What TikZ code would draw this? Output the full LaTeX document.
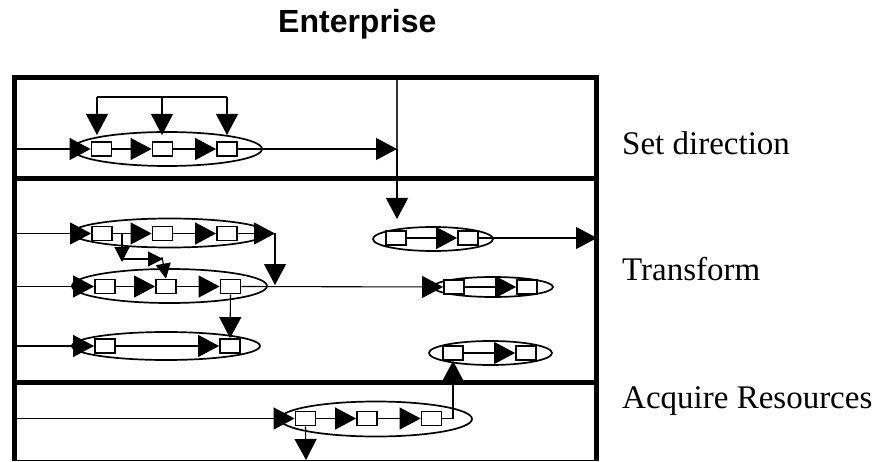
\documentclass[tikz,border=0pt]{standalone}
\usepackage{fontspec}
\setmainfont{Liberation Serif}
\newfontfamily\titlefont{Liberation Sans}
\usetikzlibrary{shapes.geometric,arrows.meta}
\tikzset{
  pbox/.style={draw, line width=1.8pt, fill=white, rectangle, minimum width=20pt, minimum height=14pt, inner sep=0pt},
  ell/.style={draw, line width=1.7pt, ellipse, inner sep=0pt},
  arr/.style={line width=1.1pt, -{Triangle[length=21pt,width=22pt]}},
  sarr/.style={line width=1.1pt, -{Triangle[length=15pt,width=15pt]}},
  ln/.style={line width=1.1pt},
  frame/.style={line width=5pt},
  lab/.style={anchor=base west, inner sep=0pt, font=\fontsize{33}{40}\selectfont}
}
\begin{document}
\begin{tikzpicture}[x=1pt,y=-1pt]
\useasboundingbox (0,0) rectangle (877,462);
% title and labels
\node[anchor=base west, inner sep=0pt, font=\titlefont\bfseries\fontsize{32}{38}\selectfont] (title) at (278,33) {Enterprise};
\node[lab] (lsd) at (622,155) {Set direction};
\node[lab] (ltr) at (622,280) {Transform};
\node[lab] (lar) at (622,408) {Acquire Resources};
% frame
\draw[frame] (14.5,460) -- (14.5,77.5) -- (596.5,77.5) -- (596.5,460);
\draw[frame] (12,179) -- (599,179);
\draw[frame] (12,382) -- (599,382);
\draw[ln] (12,460.5) -- (599,460.5);
% ellipses
\node[ell, minimum width=190pt, minimum height=34pt] (E1) at (167,149) {};
\node[ell, minimum width=195pt, minimum height=29pt] (E2) at (169.5,233) {};
\node[ell, minimum width=195pt, minimum height=34pt] (E3) at (169.5,286) {};
\node[ell, minimum width=188pt, minimum height=28pt] (E7) at (166,346) {};
\node[ell, minimum width=120pt, minimum height=24pt] (E4) at (433,239) {};
\node[ell, minimum width=120pt, minimum height=20pt] (E5) at (493,287) {};
\node[ell, minimum width=123pt, minimum height=24pt] (E6) at (490.5,353) {};
\node[ell, minimum width=192pt, minimum height=35pt] (E8) at (376,419) {};
% boxes
\node[pbox] (b11) at (101.5,149) {};
\node[pbox] (b12) at (162.5,149) {};
\node[pbox] (b13) at (227,149) {};
\node[pbox] (b21) at (102,233.5) {};
\node[pbox] (b22) at (162.5,233.5) {};
\node[pbox] (b23) at (227,233.5) {};
\node[pbox] (b31) at (105,286.5) {};
\node[pbox] (b32) at (166,286.5) {};
\node[pbox] (b33) at (230.5,286.5) {};
\node[pbox] (b71) at (105,346) {};
\node[pbox] (b72) at (230,346) {};
\node[pbox] (b41) at (396,238) {};
\node[pbox] (b42) at (468,238) {};
\node[pbox] (b51) at (454,287) {};
\node[pbox] (b52) at (527,287) {};
\node[pbox] (b61) at (453,353) {};
\node[pbox] (b62) at (526,353) {};
\node[pbox] (b81) at (305.5,418.5) {};
\node[pbox] (b82) at (367,418.5) {};
\node[pbox] (b83) at (431.5,418.5) {};
% coordinates
\coordinate (in1) at (17,149);
\coordinate (in2) at (17,233.5);
\coordinate (in3) at (17,286.5);
\coordinate (in7) at (17,346);
\coordinate (in8) at (17,418.5);
\coordinate (sdout) at (397,149);
\coordinate (vtop) at (397,80);
\coordinate (vtip) at (397,219);
\coordinate (fbA) at (97,97);
\coordinate (fbB) at (162,97);
\coordinate (fbC) at (227,97);
\coordinate (fbAt) at (97,135);
\coordinate (fbBt) at (162,135);
\coordinate (fbCt) at (227,135);
\coordinate (c1) at (275,233.5);
\coordinate (c1t) at (275,285);
\coordinate (br1) at (122,233.5);
\coordinate (br1t) at (122,262);
\coordinate (br2) at (122,259);
\coordinate (br2t) at (163,259);
\coordinate (br3) at (162,257);
\coordinate (out1) at (597,238);
\coordinate (c8) at (453,418.5);
\coordinate (down8) at (306,460);
% set direction connectors
\draw[arr] (in1) -- (b11.west);
\draw[arr] (b11.east) -- (b12.west);
\draw[arr] (b12.east) -- (b13.west);
\draw[arr] (b13.east) -- (sdout);
\draw[ln] (fbA) -- (fbC);
\draw[arr] (fbA) -- (fbAt);
\draw[arr] (fbB) -- (fbBt);
\draw[arr] (fbC) -- (fbCt);
\draw[ln, draw=black!80] (vtop) -- (sdout);
\draw[arr] (sdout) -- (vtip);
% transform row 1
\draw[arr] (in2) -- (b21.west);
\draw[arr] (b21.east) -- (b22.west);
\draw[arr] (b22.east) -- (b23.west);
\draw[arr] (b23.east) -- (c1);
\draw[arr] (c1) -- (c1t);
\draw[sarr] (br1) -- (br1t);
\draw[sarr] (br2) -- (br2t);
\draw[sarr] (br3) -- (b32.north);
% transform row 2
\draw[arr] (in3) -- (b31.west);
\draw[arr] (b31.east) -- (b32.west);
\draw[arr] (b32.east) -- (b33.west);
\draw[arr] (b33.east) -- (b51.west);
\draw[arr] (b33.south) -- (b72.north);
% transform row 3
\draw[arr] (in7) -- (b71.west);
\draw[arr] (b71.east) -- (b72.west);
% right ellipses
\draw[arr] (b41.east) -- (b42.west);
\draw[arr] (b42.east) -- (out1);
\draw[arr] (b51.east) -- (b52.west);
\draw[arr] (b61.east) -- (b62.west);
% acquire resources
\draw[arr] (in8) -- (b81.west);
\draw[arr] (b81.east) -- (b82.west);
\draw[arr] (b82.east) -- (b83.west);
\draw[ln] (b83.east) -- (c8);
\draw[arr] (c8) -- (b61.south);
\draw[arr] (b81.south) -- (down8);
\end{tikzpicture}
\end{document}
